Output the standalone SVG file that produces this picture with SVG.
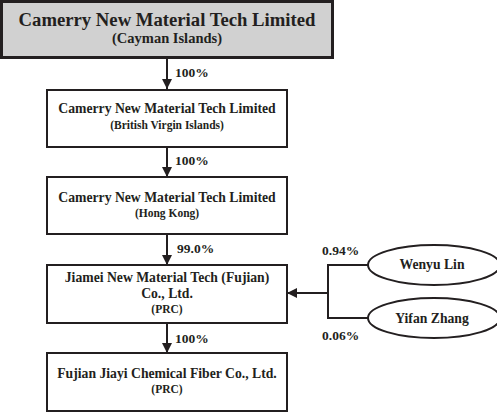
<svg xmlns="http://www.w3.org/2000/svg" width="497" height="412" viewBox="0 0 497 412">
<defs>
<marker id="arr" markerWidth="10" markerHeight="10" refX="10" refY="5" orient="auto" markerUnits="userSpaceOnUse">
<path d="M0,0 L10,5 L0,10 Z" fill="#231f20"/>
</marker>
<style>
text{font-family:"Liberation Serif","Times New Roman",serif;font-weight:bold;fill:#231f20;text-anchor:middle}
.box{fill:#ffffff;stroke:#231f20;stroke-width:2}
.top{fill:#d1d1d1;stroke:#231f20;stroke-width:3}
.t1{font-size:13.7px}
.t2{font-size:11.5px}
.pct{font-size:13.5px;text-anchor:start}
.con{fill:none;stroke:#231f20;stroke-width:2}
</style>
</defs>
<rect width="497" height="412" fill="#ffffff"/>
<g id="connectors">
<line class="con" x1="167" y1="59" x2="167" y2="89" marker-end="url(#arr)"/>
<line class="con" x1="167" y1="147" x2="167" y2="177" marker-end="url(#arr)"/>
<line class="con" x1="167" y1="234" x2="167" y2="265" marker-end="url(#arr)"/>
<line class="con" x1="167" y1="323" x2="167" y2="353" marker-end="url(#arr)"/>
<polyline class="con" points="368,265 328,265 328,318 368,318"/>
<line class="con" x1="328" y1="293" x2="287" y2="293" marker-end="url(#arr)"/>
<text class="pct" x="175" y="77">100%</text>
<text class="pct" x="175" y="165">100%</text>
<text class="pct" x="177" y="253">99.0%</text>
<text class="pct" x="175" y="343">100%</text>
<text class="pct" x="322" y="255">0.94%</text>
<text class="pct" x="322" y="340">0.06%</text>
</g>
<g id="cayman">
<rect class="top" x="1.5" y="1.5" width="331" height="56"/>
<text x="167" y="26" style="font-size:18.7px">Camerry New Material Tech Limited</text>
<text x="167" y="43" style="font-size:14.5px">(Cayman Islands)</text>
</g>
<g id="bvi">
<rect class="box" x="47" y="90" width="240" height="57"/>
<text class="t1" x="167" y="113">Camerry New Material Tech Limited</text>
<text class="t2" x="167" y="129">(British Virgin Islands)</text>
</g>
<g id="hk">
<rect class="box" x="47" y="177" width="240" height="57"/>
<text class="t1" x="167" y="202">Camerry New Material Tech Limited</text>
<text class="t2" x="167" y="217">(Hong Kong)</text>
</g>
<g id="jiamei">
<rect class="box" x="47" y="265" width="240" height="58"/>
<text class="t1" x="167" y="282">Jiamei New Material Tech (Fujian)</text>
<text class="t1" x="167" y="298">Co., Ltd.</text>
<text class="t2" x="167" y="313">(PRC)</text>
</g>
<g id="jiayi">
<rect class="box" x="47" y="353" width="240" height="58"/>
<text class="t1" x="167" y="378">Fujian Jiayi Chemical Fiber Co., Ltd.</text>
<text class="t2" x="167" y="393">(PRC)</text>
</g>
<g id="wenyu">
<ellipse class="box" cx="434" cy="265" rx="66" ry="20"/>
<text class="t1" x="432" y="269">Wenyu Lin</text>
</g>
<g id="yifan">
<ellipse class="box" cx="434" cy="318" rx="66" ry="20"/>
<text class="t1" x="432" y="323">Yifan Zhang</text>
</g>
</svg>
